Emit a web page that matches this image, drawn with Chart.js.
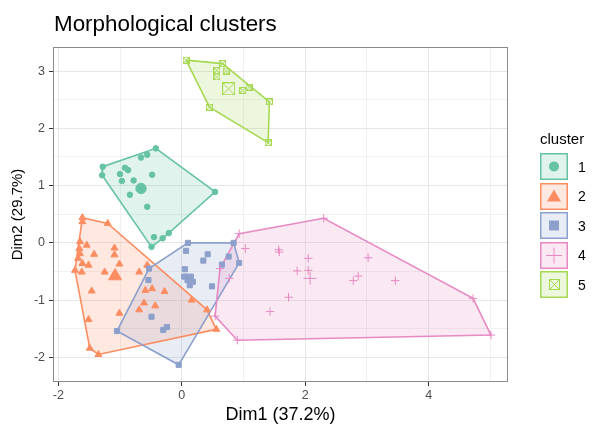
<!DOCTYPE html>
<html>
<head>
<meta charset="utf-8">
<script src="https://cdn.jsdelivr.net/npm/chart.js@4.4.0/dist/chart.umd.min.js"></script>
<style>
  body { margin: 0; background: #fff; }
  #wrap { position: relative; width: 595px; height: 426px; font-family: "Liberation Sans", Arial, sans-serif; }
  #title { position: absolute; left: 54px; top: 13px; font-size: 22.4px; line-height: 22px; color: #000; white-space: nowrap; }
  #legend { position: absolute; left: 540px; top: 131px; color: #000; }
  #legend .ttl { font-size: 15px; line-height: 15px; margin-bottom: 7px; }
  #legend .row { display: flex; align-items: center; height: 27px; margin-bottom: 2.6px; }
  #legend .row span { font-size: 14px; margin-left: 10px; }
</style>
</head>
<body>
<div id="wrap">
  <canvas id="chart" width="595" height="426"></canvas>
  <div id="title">Morphological clusters</div>
  <div id="legend"></div>
</div>
<script>
// cluster names and colours
const clusters = ['1', '2', '3', '4', '5'];
const colors = ['#66C2A5', '#FC8D62', '#8DA0CB', '#E78AC3', '#A6D854'];
const fills = ['rgba(102,194,165,0.2)', 'rgba(252,141,98,0.2)', 'rgba(141,160,203,0.2)', 'rgba(231,138,195,0.2)', 'rgba(166,216,84,0.2)'];

// points
const c1x = [-1.28, -1.29, -0.66, -0.56, -0.42, -0.92, -0.87, -1.00, -0.97, -0.78, -0.48, -0.84, -0.56, 0.54, -0.45, -0.31, -0.21, -0.49];
const c1y = [1.33, 1.18, 1.49, 1.54, 1.65, 1.31, 1.27, 1.20, 1.08, 1.09, 1.19, 0.84, 0.63, 0.89, 0.10, 0.08, 0.17, -0.07];
const c2x = [-1.61, -1.61, -1.20, -1.65, -1.54, -1.66, -1.42, -1.09, -1.09, -1.65, -1.68, -1.61, -1.51, -1.73, -1.62, -1.01, -1.25, -0.69, -0.56, -1.46, -0.59, -0.48, -0.28, -0.61, -0.43, -0.69, -1.01, 0.16, 0.41, 0.56, -1.51, -1.49, -1.35];
const c2y = [0.44, 0.37, 0.34, 0.02, -0.04, -0.10, -0.20, -0.09, -0.21, -0.19, -0.27, -0.36, -0.39, -0.48, -0.51, -0.37, -0.51, -0.51, -0.39, -0.84, -0.83, -0.80, -0.85, -1.05, -1.10, -1.17, -1.23, -1.00, -1.17, -1.51, -1.34, -1.84, -1.95];
const c3x = [0.10, 0.84, 0.07, 0.42, 0.35, 0.76, 0.65, 0.93, 0.05, 0.04, 0.13, 0.18, 0.13, 0.49, -0.53, -0.54, -0.49, -0.24, -0.30, -1.05, -0.05];
const c3y = [0.00, 0.00, -0.14, -0.20, -0.31, -0.24, -0.38, -0.35, -0.46, -0.59, -0.62, -0.68, -0.74, -0.76, -0.45, -0.65, -1.29, -1.47, -1.52, -1.54, -2.13];
const c4x = [0.93, 2.30, 1.03, 1.57, 1.58, 2.05, 3.02, 0.62, 1.87, 2.05, 2.86, 2.78, 3.46, 0.77, 1.73, 1.43, 0.54, 4.72, 5.01, 0.90];
const c4y = [0.16, 0.43, -0.10, -0.12, -0.16, -0.27, -0.26, -0.45, -0.49, -0.48, -0.58, -0.66, -0.66, -0.62, -0.95, -1.20, -1.28, -0.97, -1.61, -1.70];
const c5x = [0.07, 0.66, 0.57, 0.72, 0.57, 0.99, 1.09, 1.42, 0.45, 1.40];
const c5y = [3.19, 3.13, 3.01, 3.00, 2.90, 2.66, 2.72, 2.46, 2.37, 1.75];

// cluster centres (big symbols)
const centerX = [-0.66, -1.08, 0.12, 2.08, 0.76];
const centerY = [0.95, -0.58, -0.62, -0.62, 2.69];

// axis ticks
const xMajor = [-2, 0, 2, 4];
const xMinor = [-1, 1, 3, 5];
const yMajor = [-2, -1, 0, 1, 2, 3];
const yMinor = [-1.5, -0.5, 0.5, 1.5, 2.5];

const xs = [c1x, c2x, c3x, c4x, c5x];
const ys = [c1y, c2y, c3y, c4y, c5y];

// boxed cross symbol (ggplot shape 7)
function boxCross(size, color) {
  const cv = document.createElement('canvas');
  cv.width = size; cv.height = size;
  const c = cv.getContext('2d');
  c.strokeStyle = color; c.lineWidth = 1;
  c.strokeRect(0.5, 0.5, size - 1, size - 1);
  c.beginPath();
  c.moveTo(0.5, 0.5); c.lineTo(size - 0.5, size - 0.5);
  c.moveTo(size - 0.5, 0.5); c.lineTo(0.5, size - 0.5);
  c.stroke();
  return cv;
}

const pointStyles = ['circle', 'triangle', 'rect', 'cross', boxCross(7, colors[4])];
const pointSizes = [2.8, 4, 3.6, 4.2, 3.5];
const centerStyles = ['circle', 'triangle', 'rect', 'cross', boxCross(13, colors[4])];
const centerSizes = [5.2, 7.5, 6, 6.5, 6.5];

function hull(px, py) {
  const p = px.map((x, i) => [x, py[i]]).sort((a, b) => a[0] - b[0] || a[1] - b[1]);
  const cr = (o, a, b) => (a[0] - o[0]) * (b[1] - o[1]) - (a[1] - o[1]) * (b[0] - o[0]);
  const lo = [], up = [];
  for (const q of p) {
    while (lo.length >= 2 && cr(lo[lo.length - 2], lo[lo.length - 1], q) <= 0) lo.pop();
    lo.push(q);
  }
  for (const q of p.slice().reverse()) {
    while (up.length >= 2 && cr(up[up.length - 2], up[up.length - 1], q) <= 0) up.pop();
    up.push(q);
  }
  lo.pop(); up.pop();
  return lo.concat(up);
}

const datasets = [];
clusters.forEach((name, k) => {
  const h = hull(xs[k], ys[k]);
  h.push(h[0]);
  datasets.push({
    label: 'hull ' + name,
    data: h.map(q => ({ x: q[0], y: q[1] })),
    showLine: true,
    borderColor: colors[k],
    borderWidth: 1.6,
    pointRadius: 0,
    hullColor: fills[k],
    order: 20 - k
  });
  datasets.push({
    label: name,
    data: xs[k].map((x, i) => ({ x: x, y: ys[k][i] })),
    pointStyle: pointStyles[k],
    pointRadius: pointSizes[k],
    backgroundColor: colors[k],
    borderColor: colors[k],
    borderWidth: 1,
    order: 10 - k
  });
  datasets.push({
    label: 'centre ' + name,
    data: [{ x: centerX[k], y: centerY[k] }],
    pointStyle: centerStyles[k],
    pointRadius: centerSizes[k],
    backgroundColor: colors[k],
    borderColor: colors[k],
    borderWidth: 1,
    order: 5 - k
  });
});

// fill polygons under the outlines
const hullFill = {
  id: 'hullFill',
  beforeDatasetsDraw(chart) {
    const { ctx, chartArea: a } = chart;
    ctx.save();
    ctx.beginPath();
    ctx.rect(a.left, a.top, a.right - a.left, a.bottom - a.top);
    ctx.clip();
    chart.data.datasets.forEach((ds, i) => {
      if (!ds.hullColor) return;
      const pts = chart.getDatasetMeta(i).data;
      ctx.beginPath();
      pts.forEach((p, j) => j ? ctx.lineTo(p.x, p.y) : ctx.moveTo(p.x, p.y));
      ctx.closePath();
      ctx.fillStyle = ds.hullColor;
      ctx.fill();
    });
    ctx.restore();
  }
};

const frame = {
  id: 'frame',
  afterDraw(chart) {
    const { ctx, chartArea: a } = chart;
    ctx.save();
    ctx.strokeStyle = '#8a8a8a';
    ctx.lineWidth = 1;
    ctx.strokeRect(Math.round(a.left) - 0.5, Math.round(a.top) + 0.5, Math.round(a.right - a.left) + 1, Math.round(a.bottom - a.top) - 1);
    ctx.restore();
  }
};

const tickFont = { family: '"Liberation Sans", Arial, sans-serif', size: 12.5 };
const titleFont = { family: '"Liberation Sans", Arial, sans-serif' };

new Chart(document.getElementById('chart').getContext('2d'), {
  type: 'scatter',
  data: { datasets: datasets },
  plugins: [hullFill, frame],
  options: {
    responsive: false,
    animation: false,
    devicePixelRatio: 1,
    layout: { padding: { top: 47, right: 88, left: 0, bottom: 0 } },
    plugins: { legend: { display: false }, tooltip: { enabled: false } },
    scales: {
      x: {
        type: 'linear', min: -2.07, max: 5.27,
        afterBuildTicks: s => { s.ticks = xMajor.concat(xMinor).sort((a, b) => a - b).map(v => ({ value: v })); },
        afterFit: s => { s.height = 44; },
        border: { display: false },
        grid: {
          color: c => xMajor.includes(c.tick.value) ? '#e6e6e6' : '#f0f0f0',
          lineWidth: 1,
          tickLength: 4,
          tickColor: c => xMajor.includes(c.tick.value) ? '#333333' : 'rgba(0,0,0,0)'
        },
        ticks: {
          autoSkip: false, maxRotation: 0, padding: 2, color: '#4d4d4d', font: tickFont,
          callback: v => xMajor.includes(v) ? String(v) : ''
        },
        title: { display: true, text: 'Dim1 (37.2%)', color: '#000', font: Object.assign({ size: 18 }, titleFont), padding: { top: 0, bottom: 0 } }
      },
      y: {
        type: 'linear', min: -2.43, max: 3.42,
        afterBuildTicks: s => { s.ticks = yMajor.concat(yMinor).sort((a, b) => a - b).map(v => ({ value: v })); },
        afterFit: s => { s.width = 54; },
        border: { display: false },
        grid: {
          color: c => yMajor.includes(c.tick.value) ? '#e6e6e6' : '#f0f0f0',
          lineWidth: 1,
          tickLength: 5,
          tickColor: c => yMajor.includes(c.tick.value) ? '#333333' : 'rgba(0,0,0,0)'
        },
        ticks: {
          autoSkip: false, padding: 4, color: '#4d4d4d', font: tickFont,
          callback: v => yMajor.includes(v) ? String(v) : ''
        },
        title: { display: true, text: 'Dim2 (29.7%)', color: '#000', font: Object.assign({ size: 15 }, titleFont), padding: { top: 8.5, bottom: 0 } }
      }
    }
  }
});

// legend keys
function drawKey(cv, k) {
  const c = cv.getContext('2d');
  const w = cv.width, h = cv.height, cx = w / 2, cy = h / 2;
  c.fillStyle = fills[k];
  c.fillRect(1, 1, w - 2, h - 2);
  c.strokeStyle = colors[k];
  c.lineWidth = 1.5;
  c.strokeRect(0.75, 0.75, w - 1.5, h - 1.5);
  c.fillStyle = colors[k];
  c.lineWidth = 1;
  c.beginPath();
  if (k === 0) {
    c.arc(cx, cy, 5, 0, Math.PI * 2); c.fill();
  } else if (k === 1) {
    c.moveTo(cx, cy - 7); c.lineTo(cx + 7, cy + 5); c.lineTo(cx - 7, cy + 5); c.closePath(); c.fill();
  } else if (k === 2) {
    c.fillRect(cx - 5, cy - 5, 10, 10);
  } else if (k === 3) {
    c.moveTo(cx - 8, cy); c.lineTo(cx + 8, cy); c.moveTo(cx, cy - 8); c.lineTo(cx, cy + 8); c.stroke();
  } else {
    c.drawImage(boxCross(11, colors[4]), Math.round(cx - 5.5), Math.round(cy - 5.5));
  }
}

const leg = document.getElementById('legend');
const lt = document.createElement('div');
lt.className = 'ttl';
lt.textContent = 'cluster';
leg.appendChild(lt);
clusters.forEach((name, k) => {
  const row = document.createElement('div');
  row.className = 'row';
  const cv = document.createElement('canvas');
  cv.width = 28; cv.height = 27;
  drawKey(cv, k);
  const sp = document.createElement('span');
  sp.textContent = name;
  row.appendChild(cv);
  row.appendChild(sp);
  leg.appendChild(row);
});
</script>
</body>
</html>
